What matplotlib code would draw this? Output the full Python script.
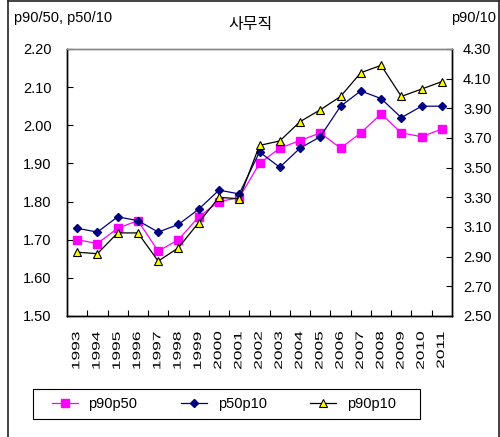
import matplotlib
matplotlib.use("Agg")
import matplotlib.pyplot as plt
from matplotlib.lines import Line2D
from matplotlib.patches import Rectangle
from matplotlib.patheffects import AbstractPathEffect
from matplotlib.transforms import Affine2D

plt.rcParams['font.family'] = ['Liberation Sans', 'Noto Sans CJK KR', 'DejaVu Sans']

years = ['1993', '1994', '1995', '1996', '1997', '1998', '1999', '2000', '2001', '2002',
         '2003', '2004', '2005', '2006', '2007', '2008', '2009', '2010', '2011']
p90p50 = [1.70, 1.69, 1.73, 1.75, 1.67, 1.70, 1.76, 1.80, 1.81, 1.90,
          1.94, 1.96, 1.98, 1.94, 1.98, 2.03, 1.98, 1.97, 1.99]
p50p10 = [1.73, 1.72, 1.76, 1.75, 1.72, 1.74, 1.78, 1.83, 1.82, 1.93,
          1.89, 1.94, 1.97, 2.05, 2.09, 2.07, 2.02, 2.05, 2.05]
p90p10 = [2.93, 2.92, 3.06, 3.06, 2.87, 2.96, 3.13, 3.30, 3.29, 3.65,
          3.68, 3.81, 3.89, 3.98, 4.14, 4.19, 3.98, 4.03, 4.08]

left_ticks = [1.50, 1.60, 1.70, 1.80, 1.90, 2.00, 2.10, 2.20]
right_ticks = [2.50, 2.70, 2.90, 3.10, 3.30, 3.50, 3.70, 3.90, 4.10, 4.30]

title = '사무직'
left_label = 'p90/50, p50/10'
right_label = 'p90/10'


class Squash(AbstractPathEffect):
    """Draw glyphs compressed across the baseline (narrow, tall digits)."""

    def __init__(self, sy=0.62):
        super().__init__()
        self.sy = sy
        self.dy = (1 - sy) * 71.6 / 2

    def draw_path(self, renderer, gc, tpath, affine, rgbFace=None):
        squash = Affine2D().scale(1.0, self.sy).translate(0, self.dy)
        renderer.draw_path(gc, tpath, squash + affine, rgbFace)


fig = plt.figure(figsize=(5.0, 4.37), dpi=100)
ax = fig.add_axes([0.134, 0.2769, 0.770, 0.611])
ax2 = ax.twinx()

x = list(range(len(years)))
fs = 10.5

l1, = ax.plot(x, p90p50, color='#FF00FF', lw=0.9, marker='s', ms=5.5,
              mfc='#FF00FF', mec='#FF00FF', label='p90p50', zorder=3)
l2, = ax.plot(x, p50p10, color='#000080', lw=0.9, marker='D', ms=4.2,
              mfc='#000080', mec='#000080', label='p50p10', zorder=4)
l3, = ax2.plot(x, p90p10, color='black', lw=0.9, marker='^', ms=6,
               mfc='#FFFF00', mec='black', mew=0.8, label='p90p10', zorder=3)

ax.set_xlim(-0.5, len(years) - 0.5)
ax.set_ylim(1.50, 2.20)
ax2.set_ylim(2.50, 4.30)

ax.set_yticks(left_ticks)
ax.set_yticklabels([f'{v:.2f}' for v in left_ticks], fontsize=fs)
ax2.set_yticks(right_ticks)
ax2.set_yticklabels([f'{v:.2f}' for v in right_ticks], fontsize=fs)

ax.set_xticks(x)
ax.set_xticklabels(years, rotation=90, fontsize=12.5)
for lab in ax.get_xticklabels():
    lab.set_path_effects([Squash(0.62)])
ax.set_xticks([i + 0.5 for i in range(len(years) - 1)], minor=True)
ax.tick_params(axis='x', which='major', length=0, pad=11)
ax.tick_params(axis='x', which='minor', direction='in', length=4, width=0.8)
ax.tick_params(axis='y', direction='in', length=4, width=0.8, pad=11)
ax2.tick_params(axis='y', direction='in', length=4, width=0.8, pad=8)

for a in (ax, ax2):
    for side in ('left', 'right', 'bottom'):
        a.spines[side].set_color('black')
        a.spines[side].set_linewidth(1.0)
    a.spines['top'].set_color('#888888')
    a.spines['top'].set_linewidth(1.0)

fig.text(0.502, 0.945, title, ha='center', va='center', fontsize=11.5,
         family=['Noto Sans CJK KR', 'DejaVu Sans'])
fig.text(0.028, 0.958, left_label, ha='left', va='center', fontsize=fs)
fig.text(0.992, 0.958, right_label, ha='right', va='center', fontsize=fs)

# legend entries without their own frame; the box is drawn separately
leg = fig.legend(handles=[l1, l2, l3], loc='center left',
                 bbox_to_anchor=(0.104, 0.0755), ncol=3, fontsize=fs,
                 frameon=False, handlelength=1.75,
                 handletextpad=0.75, columnspacing=3.0, borderpad=0,
                 borderaxespad=0)
fig.add_artist(Rectangle((0.066, 0.0412), 0.774, 0.0686,
                         transform=fig.transFigure, fill=False,
                         edgecolor='black', lw=0.8))

# outer chart frame
fig.add_artist(Line2D([0.016, 0.016], [0, 0.998], transform=fig.transFigure,
                      color='#222222', lw=1.2))
fig.add_artist(Line2D([0.998, 0.998], [0, 0.998], transform=fig.transFigure,
                      color='#222222', lw=1.2))
fig.add_artist(Line2D([0.016, 0.998], [0.998, 0.998], transform=fig.transFigure,
                      color='#222222', lw=1.2))

fig.savefig('out.png', dpi=100)
